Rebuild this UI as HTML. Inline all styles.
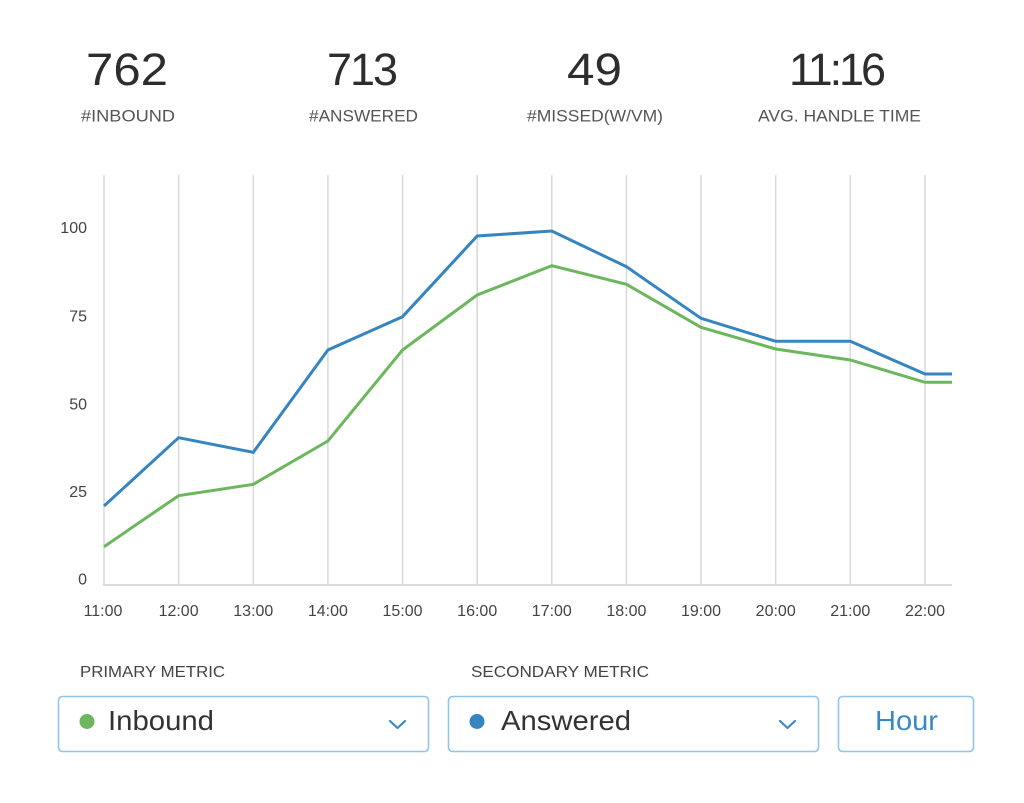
<!DOCTYPE html>
<html>
<head>
<meta charset="utf-8">
<style>
  html,body{margin:0;padding:0;background:#fff;}
  body{width:1024px;height:803px;overflow:hidden;font-family:"Liberation Sans",Arial,sans-serif;}
  svg{display:block;}
</style>
</head>
<body>
<svg width="1024" height="803" viewBox="0 0 1024 803" xmlns="http://www.w3.org/2000/svg" font-family="Liberation Sans, Arial, sans-serif">
  <rect width="1024" height="803" fill="#fff"/>

  <!-- Stats -->
  <g fill="#2d2d2d" font-size="45">
    <text x="86" y="85" textLength="82" lengthAdjust="spacingAndGlyphs">762</text>
    <text x="327" y="85" textLength="71" lengthAdjust="spacing">713</text>
    <text x="567" y="85" textLength="55" lengthAdjust="spacingAndGlyphs">49</text>
    <text x="789" y="85" textLength="97" lengthAdjust="spacing">11:16</text>
  </g>
  <g fill="#555" font-size="16.5">
    <text x="81" y="121.5" textLength="94" lengthAdjust="spacingAndGlyphs">#INBOUND</text>
    <text x="309" y="121.5" textLength="109" lengthAdjust="spacingAndGlyphs">#ANSWERED</text>
    <text x="527" y="121.5" textLength="136" lengthAdjust="spacingAndGlyphs">#MISSED(W/VM)</text>
    <text x="758" y="121.5" textLength="163" lengthAdjust="spacingAndGlyphs">AVG. HANDLE TIME</text>
  </g>

  <!-- Grid -->
  <g stroke="#d9d9d9" stroke-width="1.5">
    <line x1="104" y1="175" x2="104" y2="585"/>
    <line x1="178.6" y1="175" x2="178.6" y2="585"/>
    <line x1="253.3" y1="175" x2="253.3" y2="585"/>
    <line x1="327.9" y1="175" x2="327.9" y2="585"/>
    <line x1="402.5" y1="175" x2="402.5" y2="585"/>
    <line x1="477.2" y1="175" x2="477.2" y2="585"/>
    <line x1="551.8" y1="175" x2="551.8" y2="585"/>
    <line x1="626.4" y1="175" x2="626.4" y2="585"/>
    <line x1="701" y1="175" x2="701" y2="585"/>
    <line x1="775.7" y1="175" x2="775.7" y2="585"/>
    <line x1="850.3" y1="175" x2="850.3" y2="585"/>
    <line x1="925" y1="175" x2="925" y2="585"/>
  </g>
  <line x1="103" y1="585" x2="952" y2="585" stroke="#dcdcdc" stroke-width="2"/>

  <!-- Y labels -->
  <g fill="#444" font-size="16" text-anchor="end">
    <text x="87" y="233">100</text>
    <text x="87" y="321.5">75</text>
    <text x="87" y="409.3">50</text>
    <text x="87" y="497">25</text>
    <text x="87" y="584.3">0</text>
  </g>

  <!-- X labels -->
  <g fill="#444" font-size="16" text-anchor="middle">
    <text x="103" y="616">11:00</text>
    <text x="178.6" y="616">12:00</text>
    <text x="253.3" y="616">13:00</text>
    <text x="327.9" y="616">14:00</text>
    <text x="402.5" y="616">15:00</text>
    <text x="477.2" y="616">16:00</text>
    <text x="551.8" y="616">17:00</text>
    <text x="626.4" y="616">18:00</text>
    <text x="701" y="616">19:00</text>
    <text x="775.7" y="616">20:00</text>
    <text x="850.3" y="616">21:00</text>
    <text x="925" y="616">22:00</text>
  </g>

  <!-- Series -->
  <polyline fill="none" stroke="#6cb75d" stroke-width="3" stroke-linejoin="miter"
    points="104,546.7 178.6,495.7 253.3,484.3 327.9,441 402.5,350 477.2,295 551.8,265.7 626.4,284.3 701,327.3 775.7,349 850.3,360 925,382.3 952,382.3"/>
  <polyline fill="none" stroke="#3585c0" stroke-width="3" stroke-linejoin="miter"
    points="104,506 178.6,437.7 253.3,452.3 327.9,350 402.5,316.7 477.2,236 551.8,231 626.4,266.7 701,318.3 775.7,341.3 850.3,341.3 925,374 952,374"/>

  <!-- Metric labels -->
  <g fill="#444" font-size="15.5">
    <text x="80" y="677" textLength="145" lengthAdjust="spacingAndGlyphs">PRIMARY METRIC</text>
    <text x="471" y="677" textLength="178" lengthAdjust="spacingAndGlyphs">SECONDARY METRIC</text>
  </g>

  <!-- Dropdowns -->
  <rect x="58.5" y="696.5" width="370" height="55" rx="4" ry="4" fill="#fff" stroke="#8fc5e8" stroke-width="1.6"/>
  <rect x="448.5" y="696.5" width="370" height="55" rx="4" ry="4" fill="#fff" stroke="#8fc5e8" stroke-width="1.6"/>
  <rect x="838.5" y="696.5" width="135" height="55" rx="4" ry="4" fill="#fff" stroke="#8fc5e8" stroke-width="1.6"/>

  <circle cx="87" cy="721.5" r="7.5" fill="#6cb75d"/>
  <circle cx="477" cy="721.5" r="7.5" fill="#3585c0"/>

  <g fill="#333" font-size="28">
    <text x="108" y="730" textLength="106" lengthAdjust="spacingAndGlyphs">Inbound</text>
    <text x="501" y="730" textLength="130" lengthAdjust="spacingAndGlyphs">Answered</text>
  </g>
  <text x="875" y="730" fill="#3a89c4" font-size="28" textLength="63" lengthAdjust="spacingAndGlyphs">Hour</text>

  <g fill="none" stroke="#3a89c4" stroke-width="2.2" stroke-linecap="round" stroke-linejoin="round">
    <polyline points="390,721 397.5,728 405,721"/>
    <polyline points="780,721 787.5,728 795,721"/>
  </g>
</svg>
</body>
</html>
